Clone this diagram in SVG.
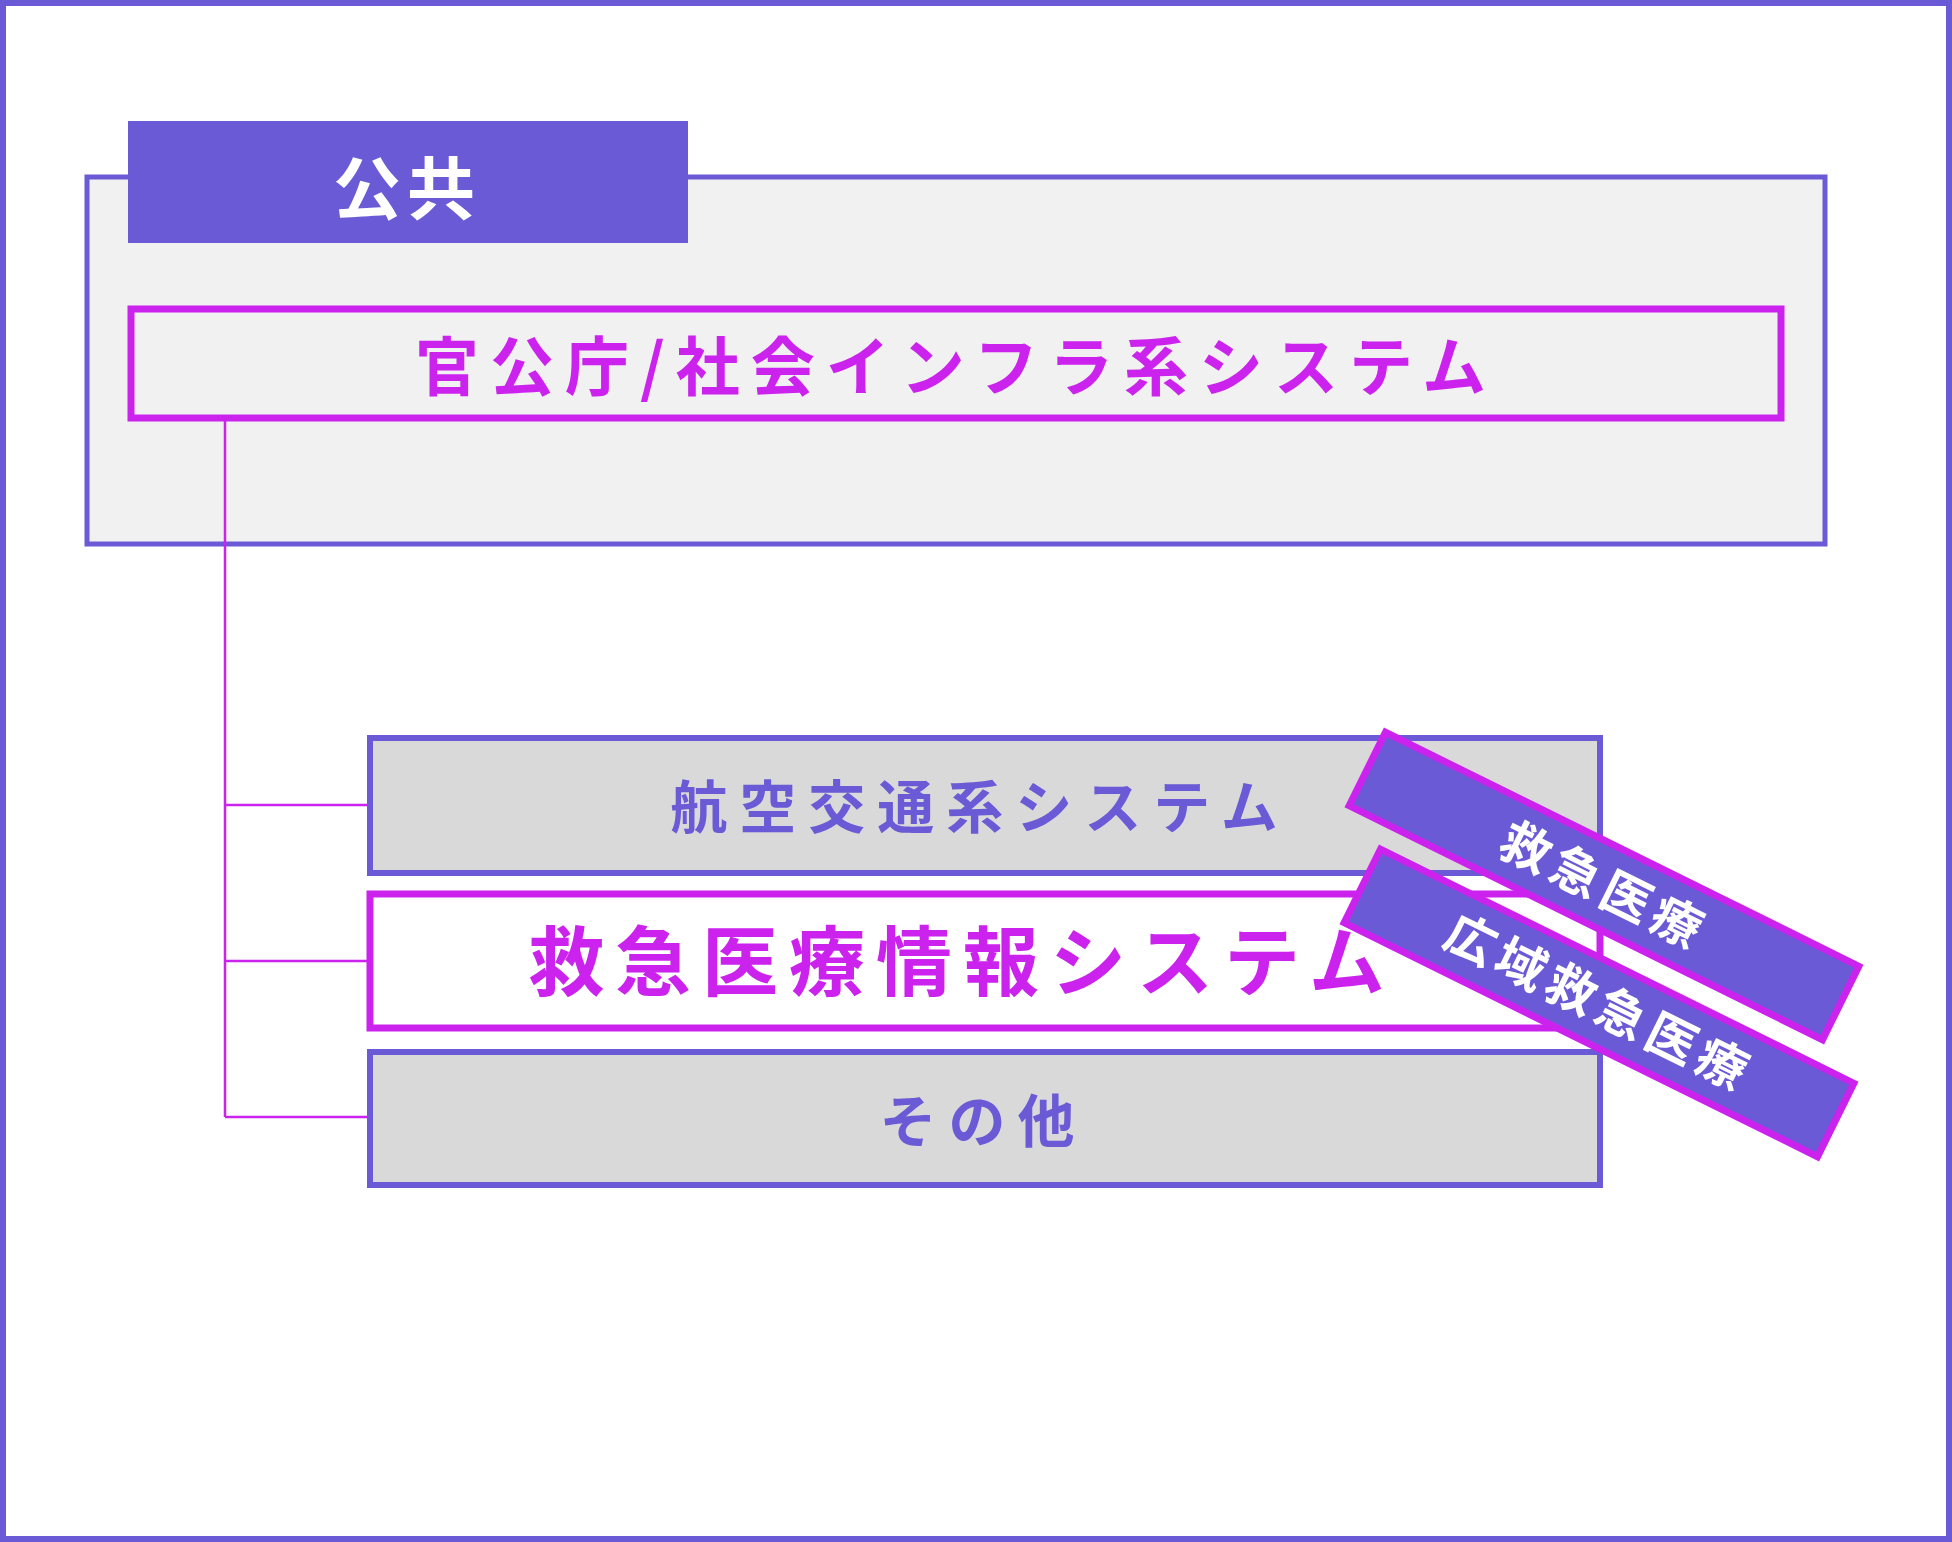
<svg xmlns="http://www.w3.org/2000/svg" width="1952" height="1542" viewBox="0 0 1952 1542">
<style>
.t{font-family:"Noto Sans CJK JP","Noto Sans",sans-serif;font-weight:bold;text-anchor:middle}
.pu{fill:#6a5ad6}.mg{fill:#cc22ee}.wh{fill:#fff}
.gb{fill:#d9d9d9;stroke:#6a5ad6;stroke-width:6}
.ban{fill:#6a5ad6;stroke:#cc22ee;stroke-width:7}
</style>
<rect x="3" y="3" width="1946" height="1536" fill="#fff" stroke="#6a5ad6" stroke-width="6"/>
<g id="public">
<rect x="87" y="177" width="1738" height="367" fill="#f1f1f1" stroke="#6a5ad6" stroke-width="5"/>
<rect x="128" y="121" width="560" height="122" fill="#6a5ad6"/>
<text class="t wh" x="407" y="214" font-size="68" letter-spacing="6">公共</text>
</g>
<g id="infra">
<rect x="131" y="309" width="1650" height="109" fill="#f1f1f1" stroke="#cc22ee" stroke-width="7"/>
<text class="t mg" x="956" y="390" font-size="64" letter-spacing="11">官公庁/社会インフラ系システム</text>
</g>
<g id="connectors" stroke="#cc22ee" stroke-width="2.5" fill="none">
<path d="M225 418V1117M225 805H370M225 961H370M225 1117H370"/>
</g>
<g id="aviation">
<rect class="gb" x="370" y="738" width="1230" height="135"/>
<text class="t pu" x="980" y="828" font-size="57" letter-spacing="12">航空交通系システム</text>
</g>
<g id="emergency">
<rect x="370" y="894" width="1230" height="134" fill="#fff" stroke="#cc22ee" stroke-width="7"/>
<text class="t mg" x="962" y="990" font-size="76" letter-spacing="11">救急医療情報システム</text>
</g>
<g id="other">
<rect class="gb" x="370" y="1052" width="1230" height="133"/>
<text class="t pu" x="983" y="1142" font-size="57" letter-spacing="12">その他</text>
</g>
<g id="tag1" transform="translate(1604 886) rotate(26.3)">
<rect class="ban" x="-264" y="-41" width="528" height="82"/>
<text class="t wh" x="0" y="18" font-size="50" letter-spacing="6">救急医療</text>
</g>
<g id="tag2" transform="translate(1599 1003) rotate(26.3)">
<rect class="ban" x="-264" y="-41" width="528" height="82"/>
<text class="t wh" x="0" y="18" font-size="50" letter-spacing="6">広域救急医療</text>
</g>
</svg>
